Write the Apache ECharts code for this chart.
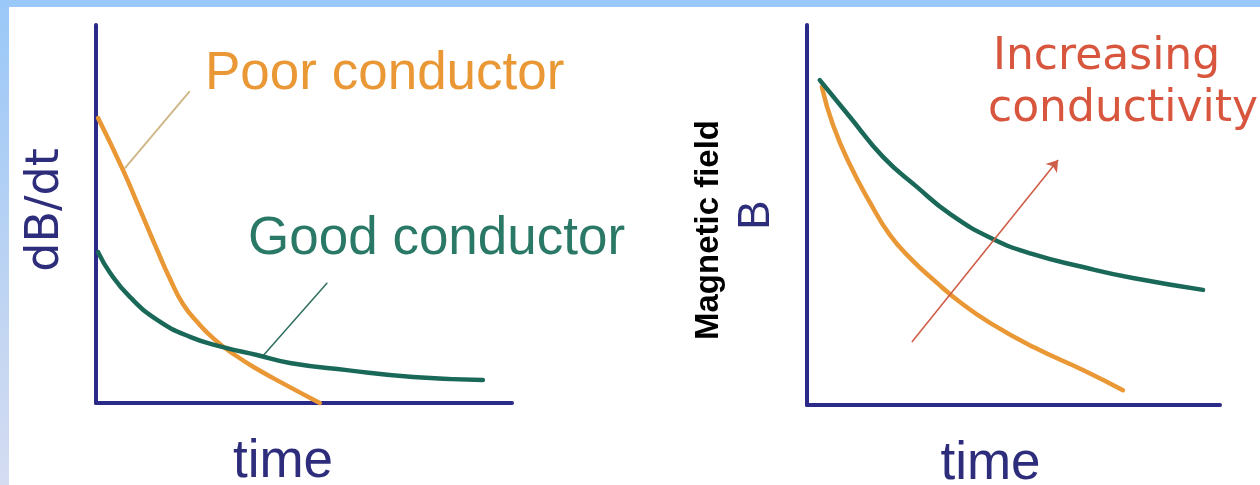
<!DOCTYPE html>
<html>
<head>
<meta charset="utf-8">
<script src="https://cdn.jsdelivr.net/npm/echarts@6/dist/echarts.min.js"></script>
<style>
  html, body { margin:0; padding:0; background:#ffffff; }
  #wrap { position:relative; width:1260px; height:485px; background:#ffffff; overflow:hidden; }
  #topbar { position:absolute; left:0; top:0; width:1260px; height:7px; background:#9ac8f8; }
  #leftbar { position:absolute; left:0; top:0; width:9px; height:485px; background:linear-gradient(#9ac8f8, #c4d6f2 70%, #d4dcf2); }
  #chart { position:absolute; left:0; top:0; width:1260px; height:485px; }
</style>
</head>
<body>
<div id="wrap">
  <div id="topbar"></div>
  <div id="leftbar"></div>
  <div id="chart"></div>
</div>
<script>
// ---- Left panel: dB/dt vs time ----
const leftPoorTime = [0.5, 6.5, 10.6, 14.7, 17.8, 20.9, 24.5, 28.6, 33.4, 38.7, 46.6, 53.8];
const leftPoorValue = [75.4, 61.6, 51.1, 40.5, 32.8, 26.2, 21.2, 16.7, 12.7, 9.0, 4.2, 0];
const leftGoodTime = [0.5, 3.4, 8.2, 14.7, 22.6, 30.5, 38.7, 46.6, 60.3, 76.2, 93.0];
const leftGoodValue = [39.9, 34.4, 28.0, 22.0, 17.5, 14.8, 12.7, 10.6, 8.7, 6.9, 6.1];
// leader lines for labels
const poorLeaderTime = [7.0, 22.4];
const poorLeaderValue = [62.2, 82.3];
const goodLeaderTime = [39.9, 55.5];
const goodLeaderValue = [12.2, 31.7];

// ---- Right panel: Magnetic field B vs time ----
const rightPoorTime = [3.6, 6.3, 10.4, 15.3, 20.1, 25.4, 31.0, 37.0, 44.3, 54.7, 66.8, 76.5];
const rightPoorValue = [83.7, 73.7, 63.2, 53.2, 44.7, 38.2, 32.6, 27.1, 21.6, 15.3, 9.2, 3.9];
const rightGoodTime = [3.1, 10.4, 18.4, 26.6, 34.6, 45.0, 54.7, 66.8, 78.9, 95.9];
const rightGoodValue = [85.5, 75.8, 65.3, 57.4, 50.3, 43.7, 39.7, 36.3, 33.4, 30.3];
const arrowTime = [25.4, 60.8];
const arrowValue = [16.6, 64.5];

// ---- Texts ----
const xAxisTitle = 'time';
const leftYTitle = 'dB/dt';
const rightYTitle = 'Magnetic field';
const rightYSymbol = 'B';
const poorLabel = 'Poor conductor';
const goodLabel = 'Good conductor';
const arrowLabel1 = 'Increasing';
const arrowLabel2 = 'conductivity';

const zip = (a, b) => a.map((v, i) => [v, b[i]]);

const NAVY = '#2b2a88';
const ORANGE = '#ea9836';
const GREEN = '#1a6858';
const RED = '#d8553e';

function axisPair(gi, withYName) {
  const x = {
    type: 'value', gridIndex: gi, min: 0, max: 100,
    axisLine: { show: true, onZero: false, lineStyle: { color: NAVY, width: 4 } },
    axisTick: { show: false }, axisLabel: { show: false }, splitLine: { show: false },
    name: xAxisTitle, nameLocation: 'middle', nameGap: 33,
    nameTextStyle: { fontSize: 53, fontFamily: 'Liberation Sans', color: '#2e2d7c', padding: [0, gi === 0 ? 42 : 46, 0, 0] }
  };
  const y = {
    type: 'value', gridIndex: gi, min: 0, max: 100,
    axisLine: { show: true, onZero: false, lineStyle: { color: NAVY, width: 4 } },
    axisTick: { show: false }, axisLabel: { show: false }, splitLine: { show: false }
  };
  if (withYName) {
    y.name = leftYTitle; y.nameLocation = 'middle'; y.nameRotate = 90; y.nameGap = 27;
    y.nameTextStyle = { fontSize: 46, fontFamily: 'DejaVu Sans', color: '#2e2d7c', padding: [0, 0, 0, 8] };
  }
  return [x, y];
}
const [x0, y0] = axisPair(0, true);
const [x1, y1] = axisPair(1, false);

const chart = echarts.init(document.getElementById('chart'), null, { renderer: 'canvas' });
const curve = (gi, data, color, w) => ({
  type: 'line', xAxisIndex: gi, yAxisIndex: gi, data, smooth: 0.5, showSymbol: false, symbol: 'none',
  clip: false, silent: true,
  lineStyle: { color, width: w, cap: 'round', join: 'round' }, z: 3
});

chart.setOption({
  animation: false,
  backgroundColor: 'transparent',
  grid: [
    { left: 96, top: 25, width: 416, height: 378, containLabel: false, outerBoundsMode: 'none' },
    { left: 807, top: 25, width: 413, height: 380, containLabel: false, outerBoundsMode: 'none' }
  ],
  xAxis: [x0, x1],
  yAxis: [y0, y1],
  series: [
    curve(0, zip(leftPoorTime, leftPoorValue), ORANGE, 4.5),
    curve(0, zip(leftGoodTime, leftGoodValue), GREEN, 4.5),
    Object.assign(curve(0, zip(poorLeaderTime, poorLeaderValue), '#cfb988', 2), { smooth: false, z: 2 }),
    Object.assign(curve(0, zip(goodLeaderTime, goodLeaderValue), '#2f6f60', 1.5), { smooth: false, z: 2 }),
    curve(1, zip(rightPoorTime, rightPoorValue), ORANGE, 4.5),
    curve(1, zip(rightGoodTime, rightGoodValue), GREEN, 4.5),
    {
      type: 'lines', coordinateSystem: 'cartesian2d', xAxisIndex: 1, yAxisIndex: 1, silent: true,
      symbol: ['none', 'arrow'], symbolSize: 11,
      lineStyle: { color: '#cf5e48', width: 1.6, opacity: 1 },
      data: [{ coords: zip(arrowTime, arrowValue) }], z: 4
    }
  ],
  graphic: [
    { type: 'text', left: 205, top: 48, style: { text: poorLabel, font: '53px "Liberation Sans"', fill: ORANGE } },
    { type: 'text', left: 248, top: 213, style: { text: goodLabel, font: '53px "Liberation Sans"', fill: '#2a7866' } },
    { type: 'text', left: 993, top: 36, style: { text: arrowLabel1, font: '44px "DejaVu Sans"', fill: RED } },
    { type: 'text', left: 988, top: 88, style: { text: arrowLabel2, font: '44px "DejaVu Sans"', fill: RED } },
    { type: 'text', x: 692, y: 230, rotation: Math.PI / 2,
      style: { text: rightYTitle, font: 'bold 33px "Liberation Sans"', fill: '#000000', align: 'center', verticalAlign: 'top' } },
    { type: 'text', x: 735, y: 215, rotation: Math.PI / 2,
      style: { text: rightYSymbol, font: '44px "Liberation Sans"', fill: '#2e2d7c', align: 'center', verticalAlign: 'top' } }
  ]
});
</script>
</body>
</html>
